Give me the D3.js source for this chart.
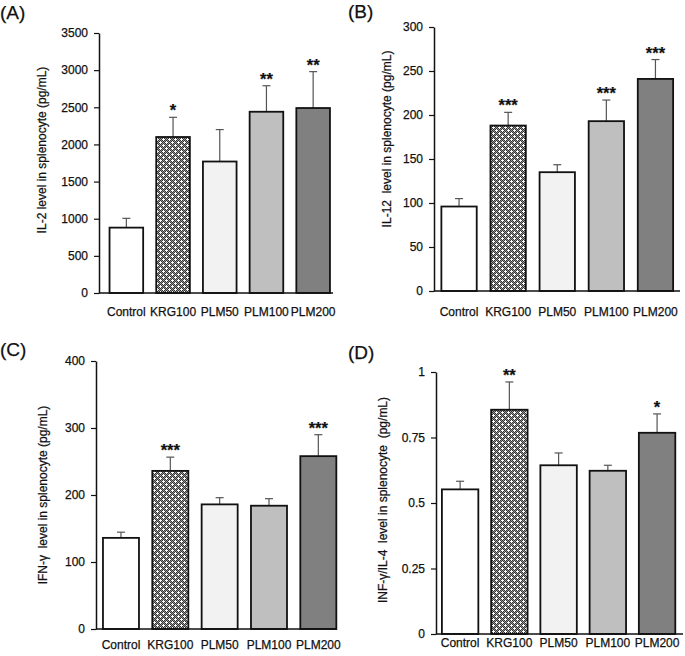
<!DOCTYPE html>
<html>
<head>
<meta charset="utf-8">
<script src="https://cdn.jsdelivr.net/npm/d3@7/dist/d3.min.js"></script>
<style>
  html, body { margin: 0; padding: 0; background: #fff; }
  svg { display: block; }
  text { font-family: "Liberation Sans", Arial, sans-serif; fill: #111; stroke: #111; stroke-width: 0.25px; }
</style>
</head>
<body>
<svg id="chart" width="685" height="656"></svg>
<script>
// ---------- DATA ----------
const categories = ["Control", "KRG100", "PLM50", "PLM100", "PLM200"];

const il2Mean  = [880, 2100, 1770, 2440, 2490];
const il2Err   = [125, 265, 430, 350, 490];
const il2Sig   = ["", "*", "", "**", "**"];
const il2Ticks = [0, 500, 1000, 1500, 2000, 2500, 3000, 3500];

const il12Mean  = [96, 188, 135, 193, 241];
const il12Err   = [9, 15, 8.5, 24, 22];
const il12Sig   = ["", "***", "", "***", "***"];
const il12Ticks = [0, 50, 100, 150, 200, 250, 300];

const ifnMean  = [136, 236, 186, 184, 258];
const ifnErr   = [8.5, 20.5, 10, 10.5, 32];
const ifnSig   = ["", "***", "", "", "***"];
const ifnTicks = [0, 100, 200, 300, 400];

const ratioMean  = [0.552, 0.856, 0.644, 0.623, 0.768];
const ratioErr   = [0.031, 0.106, 0.047, 0.021, 0.072];
const ratioSig   = ["", "**", "", "", "*"];
const ratioTicks = [0, 0.25, 0.5, 0.75, 1];

const panelLetters = ["(A)", "(B)", "(C)", "(D)"];
const yLabels = [
  "IL-2 level in splenocyte (pg/mL)",
  "IL-12  level in splenocyte (pg/mL)",
  "IFN-\u03b3  level in splenocyte (pg/mL)",
  "INF-\u03b3/IL-4  level in splenocyte  (pg/mL)"
];

// ---------- STYLE / LAYOUT ----------
const barFills = ["#ffffff", "url(#checker)", "#f2f2f2", "#bfbfbf", "#808080"];

const layout = [
  { axisX: 99,  axisEnd: 333, bandL: 103,   bandR: 336.5, top: 33,  bottom: 293, pad: 0.28,
    letterX: 0,   letterY: 19,  labelX: 42,  labelY: 150, catY: 316 },
  { axisX: 434, axisEnd: 680, bandL: 434.5, bandR: 680,   top: 27,  bottom: 291, pad: 0.28,
    letterX: 348, letterY: 18,  labelX: 387, labelY: 139, catY: 316 },
  { axisX: 96,  axisEnd: 337, bandL: 96.3,  bandR: 343,   top: 361, bottom: 629, pad: 0.27,
    letterX: 0,   letterY: 356, labelX: 43,  labelY: 495, catY: 649 },
  { axisX: 436, axisEnd: 683, bandL: 435.5, bandR: 681.7, top: 372, bottom: 634, pad: 0.26,
    letterX: 348, letterY: 359, labelX: 383, labelY: 500, catY: 647 }
];

const panels = [
  { mean: il2Mean,   err: il2Err,   sig: il2Sig,   ticks: il2Ticks,   fmt: d3.format("d") },
  { mean: il12Mean,  err: il12Err,  sig: il12Sig,  ticks: il12Ticks,  fmt: d3.format("d") },
  { mean: ifnMean,   err: ifnErr,   sig: ifnSig,   ticks: ifnTicks,   fmt: d3.format("d") },
  { mean: ratioMean, err: ratioErr, sig: ratioSig, ticks: ratioTicks, fmt: d => String(d) }
];

const svg = d3.select("#chart");

// checker pattern for KRG100
const defs = svg.append("defs");
const pat = defs.append("pattern")
  .attr("id", "checker")
  .attr("patternUnits", "userSpaceOnUse")
  .attr("width", 6).attr("height", 6);
pat.append("rect").attr("width", 6).attr("height", 6).attr("fill", "#959595");
for (let i = 0; i < 6; i++) {
  for (let j = 0; j < 6; j++) {
    if ((i + j) % 2 === 0) {
      pat.append("rect").attr("x", i).attr("y", j).attr("width", 1).attr("height", 1).attr("fill", "#333333");
    }
  }
}
// white specks
[[1, 1], [4, 4]].forEach(([cx, cy]) => {
  pat.append("rect").attr("x", cx).attr("y", cy - 1).attr("width", 1).attr("height", 3).attr("fill", "#ffffff");
  pat.append("rect").attr("x", cx - 1).attr("y", cy).attr("width", 3).attr("height", 1).attr("fill", "#ffffff");
});

panels.forEach((p, k) => {
  const L = layout[k];
  const g = svg.append("g");
  const data = categories.map((c, i) => ({ cat: c, mean: p.mean[i], err: p.err[i], sig: p.sig[i], fill: barFills[i] }));

  const x = d3.scaleBand().domain(categories).range([L.bandL, L.bandR]).paddingInner(L.pad).paddingOuter(L.pad / 2);
  const y = d3.scaleLinear().domain([0, d3.max(p.ticks)]).range([L.bottom, L.top]);

  // y axis
  const yAxis = d3.axisLeft(y).tickValues(p.ticks).tickFormat(p.fmt).tickSize(5).tickPadding(6).tickSizeOuter(0);
  const ya = g.append("g").attr("transform", `translate(${L.axisX},0)`).call(yAxis);
  ya.select(".domain").attr("stroke", "#111").attr("stroke-width", 1.5);
  ya.selectAll(".tick line").attr("stroke", "#111").attr("stroke-width", 1.2);
  ya.selectAll(".tick text").attr("font-size", 12).attr("font-family", "Liberation Sans, Arial, sans-serif").attr("fill", "#111");

  // error bars (behind bars)
  const eb = g.append("g").selectAll("g").data(data).join("g");
  eb.append("line")
    .attr("x1", d => x(d.cat) + x.bandwidth() / 2)
    .attr("x2", d => x(d.cat) + x.bandwidth() / 2)
    .attr("y1", d => y(d.mean))
    .attr("y2", d => y(d.mean + d.err))
    .attr("stroke", "#555").attr("stroke-width", 1.2);
  eb.append("line")
    .attr("x1", d => x(d.cat) + x.bandwidth() / 2 - 4)
    .attr("x2", d => x(d.cat) + x.bandwidth() / 2 + 4)
    .attr("y1", d => y(d.mean + d.err))
    .attr("y2", d => y(d.mean + d.err))
    .attr("stroke", "#555").attr("stroke-width", 1.2);

  // bars
  g.append("g").selectAll("rect").data(data).join("rect")
    .attr("x", d => x(d.cat))
    .attr("y", d => y(d.mean))
    .attr("width", x.bandwidth())
    .attr("height", d => y(0) - y(d.mean))
    .attr("fill", d => d.fill)
    .attr("stroke", "#111")
    .attr("stroke-width", 1.8);

  // x axis line
  g.append("line")
    .attr("x1", L.axisX).attr("x2", L.axisEnd)
    .attr("y1", L.bottom).attr("y2", L.bottom)
    .attr("stroke", "#111").attr("stroke-width", 1.5);

  // category labels
  g.append("g").selectAll("text").data(data).join("text")
    .attr("x", d => x(d.cat) + x.bandwidth() / 2)
    .attr("y", L.catY)
    .attr("text-anchor", "middle")
    .attr("font-size", 12)
    .text(d => d.cat);

  // significance stars
  g.append("g").selectAll("text").data(data.filter(d => d.sig)).join("text")
    .attr("x", d => x(d.cat) + x.bandwidth() / 2)
    .attr("y", d => y(d.mean + d.err) - 1)
    .attr("text-anchor", "middle")
    .attr("font-size", 16.5)
    .attr("font-weight", "bold")
    .text(d => d.sig);

  // y label
  g.append("text")
    .attr("transform", `translate(${L.labelX},${L.labelY}) rotate(-90)`)
    .attr("text-anchor", "middle")
    .attr("dominant-baseline", "central")
    .attr("font-size", 12)
    .style("white-space", "pre")
    .text(yLabels[k]);

  // panel letter
  g.append("text")
    .attr("x", L.letterX).attr("y", L.letterY)
    .attr("font-size", 19)
    .text(panelLetters[k]);
});
</script>
</body>
</html>
